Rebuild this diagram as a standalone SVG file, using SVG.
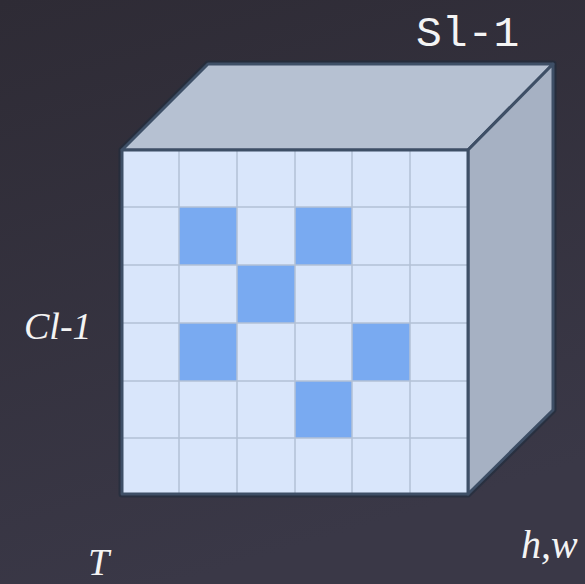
<svg xmlns="http://www.w3.org/2000/svg" width="585" height="584" viewBox="0 0 585 584">
<defs>
<linearGradient id="bg" x1="0" y1="0" x2="0.3" y2="1">
<stop offset="0" stop-color="#2e2b35"/>
<stop offset="1" stop-color="#3a3847"/>
</linearGradient>
</defs>
<style>
.edge{stroke:#3e4f66;stroke-width:3;stroke-linejoin:round}
.cell{fill:#d9e6fb}
.on{fill:#79aaf1}
.grid{stroke:#b3c1d6;stroke-width:1.5;fill:none}
.lbl{fill:#f4f4f4;font-family:"Liberation Serif",serif;font-style:italic}
.mono{fill:#f4f4f4;font-family:"Liberation Mono",monospace}
</style>
<rect width="585" height="584" fill="url(#bg)"/>
<g id="cube">
<g opacity="0.6"><path d="M122,150 L208,64 L553,64 L553,410 L468,494 L122,494 Z" fill="none" stroke="#1e2c3c" stroke-width="7" stroke-linejoin="round"/></g>
<polygon id="top" class="edge" points="122,150 208,64 553,64 468,150" fill="#b6c1d2"/>
<polygon id="side" class="edge" points="468,150 553,64 553,410 468,494" fill="#a6b1c3"/>
<g id="front">
<rect x="122" y="150" width="346" height="344" class="cell"/>
<rect x="179" y="207" width="58" height="58" class="on"/>
<rect x="295" y="207" width="57" height="58" class="on"/>
<rect x="237" y="265" width="58" height="58" class="on"/>
<rect x="179" y="323" width="58" height="58" class="on"/>
<rect x="352" y="323" width="58" height="58" class="on"/>
<rect x="295" y="381" width="57" height="57" class="on"/>
<path class="grid" d="M179,150V494M237,150V494M295,150V494M352,150V494M410,150V494M122,207H468M122,265H468M122,323H468M122,381H468M122,438H468"/>
<rect x="122" y="150" width="346" height="344" fill="none" class="edge"/>
</g>
</g>
<g id="labels">
<text class="mono" x="416" y="46" font-size="43">Sl-1</text>
<text class="lbl" x="24" y="339" font-size="38">Cl-1</text>
<text class="lbl" x="521" y="558" font-size="40">h,w</text>
<text class="lbl" x="88" y="575" font-size="38">T</text>
</g>
</svg>
